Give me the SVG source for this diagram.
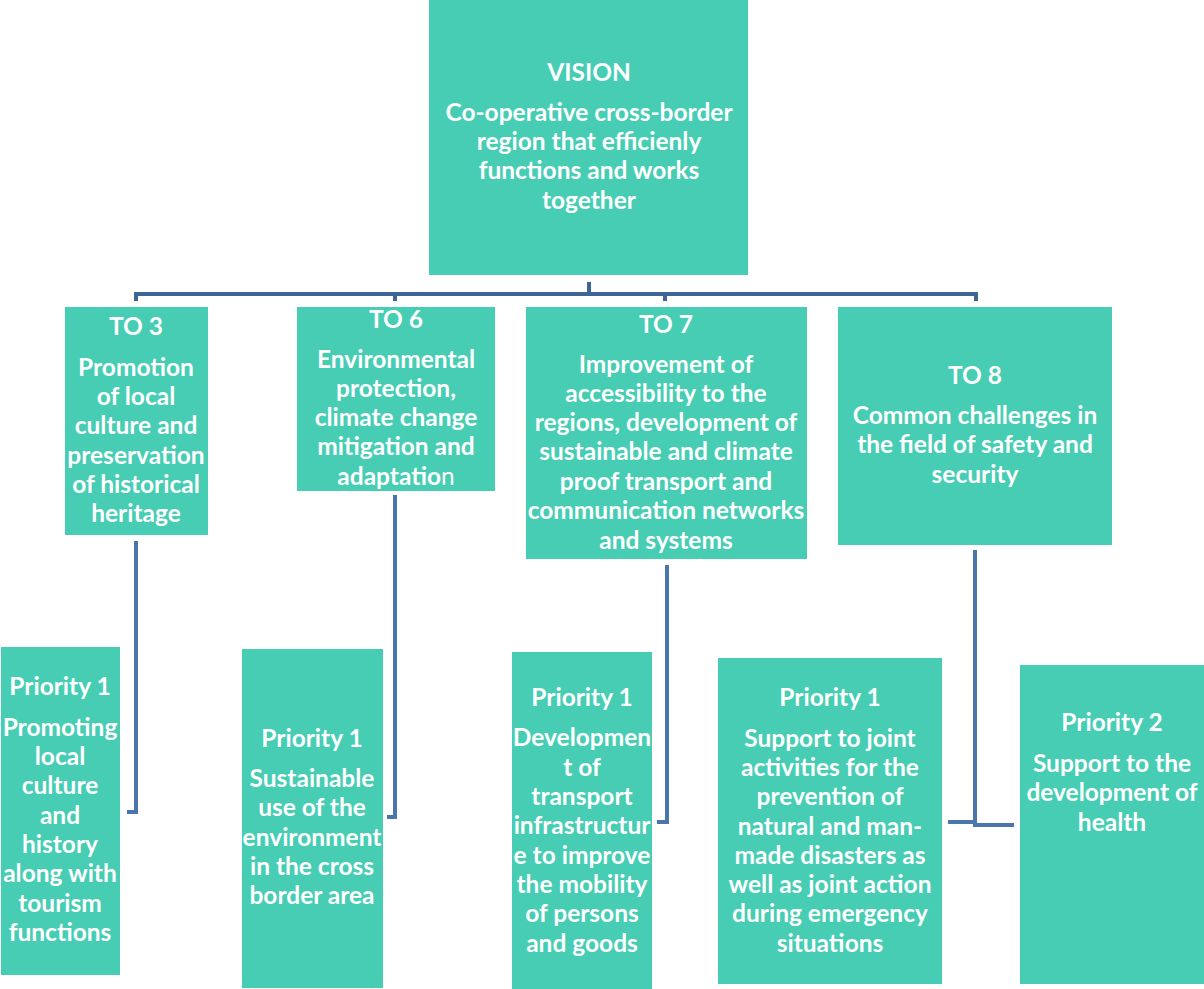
<svg xmlns="http://www.w3.org/2000/svg" width="1204" height="989" viewBox="0 0 1204 989">
<style>
.box{fill:#46CDB3;stroke:none}
text{font-family:Lato,"Open Sans","Noto Sans",sans-serif;font-weight:bold;font-size:24.5px;fill:#ffffff;text-anchor:middle}
.n{font-weight:normal}
.top{fill:none;stroke:#3E6596;stroke-width:4}
.c{fill:none;stroke:#4A76AD;stroke-width:4}
</style>
<rect width="1204" height="989" fill="#ffffff"/>
<g id="connectors">
<path class="top" d="M589,282 V294 M136,301 V294 H976 V301 M395,294 V301 M665,294 V301"/>
<path class="c" d="M136,541 V812 H127"/>
<path class="c" d="M395,495 V817 H387"/>
<path class="c" d="M667,565 V822 H657"/>
<path class="c" d="M975,550 V825 H1014 M948,822 H975"/>
</g>
<g id="vision">
<rect class="box" x="429" y="0" width="319" height="275"/>
<text x="589" y="81">VISION</text>
<text x="589" y="121">Co-operative cross-border</text>
<text x="589" y="150">region that efficienly</text>
<text x="589" y="179">functions and works</text>
<text x="589" y="209">together</text>
</g>
<g id="to3">
<rect class="box" x="65" y="307" width="143" height="228"/>
<text x="136" y="335">TO 3</text>
<text x="136" y="376">Promotion</text>
<text x="136" y="405">of local</text>
<text x="136" y="434">culture and</text>
<text x="136" y="464">preservation</text>
<text x="136" y="493">of historical</text>
<text x="136" y="522">heritage</text>
</g>
<g id="to6">
<rect class="box" x="297" y="307" width="198" height="184"/>
<text x="396" y="328">TO 6</text>
<text x="396" y="368">Environmental</text>
<text x="396" y="397">protection,</text>
<text x="396" y="426">climate change</text>
<text x="396" y="455">mitigation and</text>
<text x="396" y="485">adaptatio<tspan class="n">n</tspan></text>
</g>
<g id="to7">
<rect class="box" x="526" y="307" width="281" height="252"/>
<text x="666" y="333">TO 7</text>
<text x="666" y="373">Improvement of</text>
<text x="666" y="402">accessibility to the</text>
<text x="666" y="431">regions, development of</text>
<text x="666" y="460">sustainable and climate</text>
<text x="666" y="490">proof transport and</text>
<text x="666" y="519">communication networks</text>
<text x="666" y="549">and systems</text>
</g>
<g id="to8">
<rect class="box" x="838" y="307" width="274" height="238"/>
<text x="975" y="384">TO 8</text>
<text x="975" y="424">Common challenges in</text>
<text x="975" y="453">the field of safety and</text>
<text x="975" y="483">security</text>
</g>
<g id="p1-to3">
<rect class="box" x="1" y="647" width="119" height="328"/>
<text x="60" y="695">Priority 1</text>
<text x="60" y="736">Promoting</text>
<text x="60" y="765">local</text>
<text x="60" y="794">culture</text>
<text x="60" y="824">and</text>
<text x="60" y="853">history</text>
<text x="60" y="882">along with</text>
<text x="60" y="912">tourism</text>
<text x="60" y="941">functions</text>
</g>
<g id="p1-to6">
<rect class="box" x="242" y="649" width="141" height="339"/>
<text x="312" y="747">Priority 1</text>
<text x="312" y="787">Sustainable</text>
<text x="312" y="816">use of the</text>
<text x="312" y="846">environment</text>
<text x="312" y="875">in the cross</text>
<text x="312" y="904">border area</text>
</g>
<g id="p1-to7">
<rect class="box" x="512" y="652" width="140" height="337"/>
<text x="582" y="706">Priority 1</text>
<text x="582" y="746">Developmen</text>
<text x="582" y="776">t of</text>
<text x="582" y="805">transport</text>
<text x="582" y="834">infrastructur</text>
<text x="582" y="864">e to improve</text>
<text x="582" y="893">the mobility</text>
<text x="582" y="922">of persons</text>
<text x="582" y="952">and goods</text>
</g>
<g id="p1-to8">
<rect class="box" x="718" y="658" width="224" height="326"/>
<text x="830" y="706">Priority 1</text>
<text x="830" y="747">Support to joint</text>
<text x="830" y="776">activities for the</text>
<text x="830" y="805">prevention of</text>
<text x="830" y="835">natural and man-</text>
<text x="830" y="864">made disasters as</text>
<text x="830" y="893">well as joint action</text>
<text x="830" y="922">during emergency</text>
<text x="830" y="952">situations</text>
</g>
<g id="p2-to8">
<rect class="box" x="1020" y="665" width="184" height="319"/>
<text x="1112" y="731">Priority 2</text>
<text x="1112" y="772">Support to the</text>
<text x="1112" y="801">development of</text>
<text x="1112" y="831">health</text>
</g>
</svg>
